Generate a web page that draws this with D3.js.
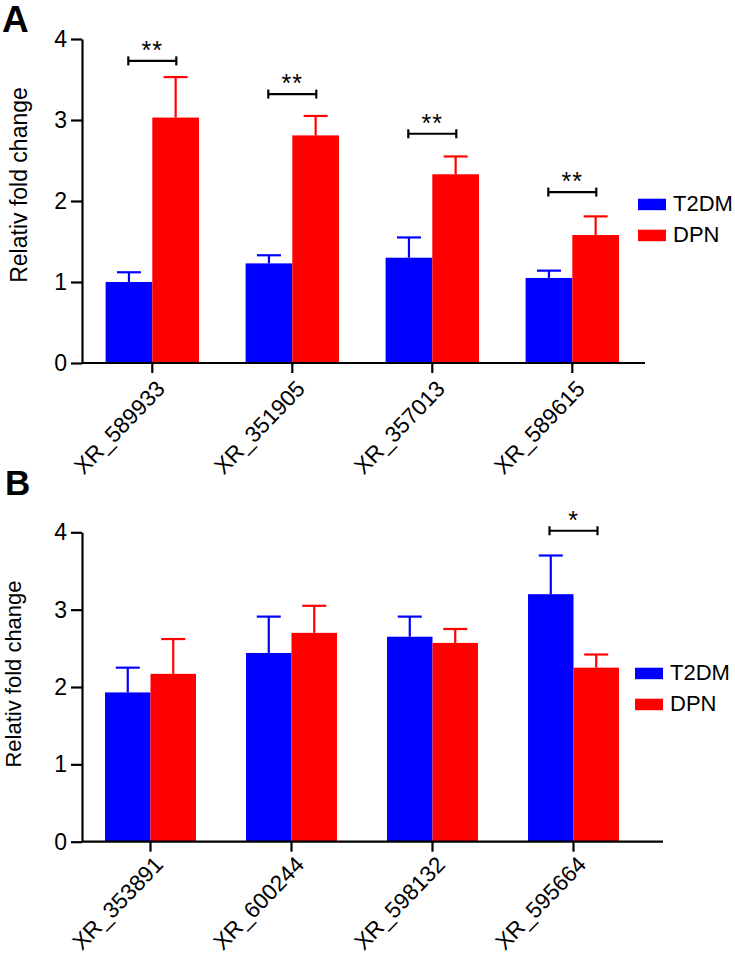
<!DOCTYPE html>
<html><head><meta charset="utf-8">
<script src="https://cdn.jsdelivr.net/npm/d3@7"></script>
<style>
html,body{margin:0;padding:0;background:#fff;}
svg text{font-family:"Liberation Sans",Arial,Helvetica,sans-serif;fill:#000;}
</style></head>
<body><svg id="c" width="735" height="959"></svg>
<script>
// ---- Data ----
const seriesNames = ["T2DM", "DPN"];
const seriesColors = ["#0000ff", "#ff0000"];
const yTicks = [0, 1, 2, 3, 4];

const categoriesA = ["XR_589933", "XR_351905", "XR_357013", "XR_589615"];
const t2dmA = [1.00, 1.23, 1.30, 1.05];
const t2dmErrA = [0.12, 0.10, 0.25, 0.09];
const dpnA = [3.03, 2.81, 2.33, 1.58];
const dpnErrA = [0.50, 0.24, 0.22, 0.23];
const sigLabelA = ["**", "**", "**", "**"];
const sigLevelA = [3.73, 3.32, 2.83, 2.11];

const categoriesB = ["XR_353891", "XR_600244", "XR_598132", "XR_595664"];
const t2dmB = [1.93, 2.44, 2.65, 3.20];
const t2dmErrB = [0.32, 0.47, 0.26, 0.50];
const dpnB = [2.17, 2.70, 2.57, 2.25];
const dpnErrB = [0.45, 0.35, 0.18, 0.17];
const sigLabelB = ["", "", "", "*"];
const sigLevelB = [null, null, null, 4.02];

const yTitle = "Relativ fold change";

// ---- Drawing ----
const svg = d3.select("#c");

function panel(cfg) {
  const g = svg.append("g");
  const y = d3.scaleLinear().domain([0, 4]).range([cfg.yBottom, cfg.yTop]);
  const x = d3.scaleBand().domain(cfg.cats).range(cfg.xRange)
    .paddingInner(cfg.pad).paddingOuter(cfg.pad / 2);
  const xs = d3.scaleBand().domain(seriesNames).range([0, x.bandwidth()]);
  const vals = [cfg.t2dm, cfg.dpn];
  const errs = [cfg.t2dmErr, cfg.dpnErr];

  // bars
  seriesNames.forEach((s, si) => {
    const data = cfg.cats.map((c, i) => ({c, v: vals[si][i], e: errs[si][i]}));
    g.append("g").selectAll("rect").data(data).join("rect")
      .attr("x", d => x(d.c) + xs(s))
      .attr("y", d => y(d.v))
      .attr("width", xs.bandwidth())
      .attr("height", d => y(0) - y(d.v))
      .attr("fill", seriesColors[si]);
    const eg = g.append("g").attr("stroke", seriesColors[si]).attr("stroke-width", 2.2);
    eg.selectAll("line.v").data(data).join("line").attr("class", "v")
      .attr("x1", d => x(d.c) + xs(s) + xs.bandwidth() / 2)
      .attr("x2", d => x(d.c) + xs(s) + xs.bandwidth() / 2)
      .attr("y1", d => y(d.v)).attr("y2", d => y(d.v + d.e));
    eg.selectAll("line.h").data(data).join("line").attr("class", "h")
      .attr("x1", d => x(d.c) + xs(s) + xs.bandwidth() / 2 - 12)
      .attr("x2", d => x(d.c) + xs(s) + xs.bandwidth() / 2 + 12)
      .attr("y1", d => y(d.v + d.e)).attr("y2", d => y(d.v + d.e));
  });

  // y axis
  const ya = g.append("g").attr("transform", `translate(${cfg.xAxisPos},0)`)
    .call(d3.axisLeft(y).tickValues(yTicks).tickSize(11).tickSizeOuter(0).tickPadding(4).tickFormat(d3.format("d")));
  ya.selectAll("path,line").attr("stroke", "#000").attr("stroke-width", 2.2);
  ya.selectAll("text").attr("font-size", 23).attr("font-family", "Liberation Sans, Arial, sans-serif").attr("fill", "#000");

  // x axis
  const xa = g.append("g").attr("transform", `translate(0,${cfg.yBottom})`)
    .call(d3.axisBottom(x).tickSize(10).tickSizeOuter(0).tickFormat(""));
  xa.select(".domain").remove();
  xa.selectAll("line").attr("stroke", "#000").attr("stroke-width", 2.2);
  g.append("line").attr("x1", cfg.xAxisPos).attr("x2", cfg.xAxisEnd)
    .attr("y1", cfg.yBottom).attr("y2", cfg.yBottom)
    .attr("stroke", "#000").attr("stroke-width", 2.2);

  // x labels
  g.append("g").selectAll("text").data(cfg.cats).join("text")
    .attr("transform", d => `translate(${x(d) + x.bandwidth() / 2 + 14},${cfg.yBottom + cfg.labDy}) rotate(-46)`)
    .attr("text-anchor", "end").attr("font-size", 22.5).text(d => d);

  // y title
  g.append("text")
    .attr("transform", `translate(${cfg.titleX},${cfg.titleY}) rotate(-90)`)
    .attr("text-anchor", "middle").attr("font-size", cfg.titleSize).text(yTitle);

  // significance
  const sig = cfg.cats.map((c, i) => ({c, lab: cfg.sigLabel[i], lev: cfg.sigLevel[i]})).filter(d => d.lab);
  const sg = g.append("g").attr("stroke", "#000").attr("stroke-width", 2.2);
  sig.forEach(d => {
    const cx = x(d.c) + x.bandwidth() / 2, yy = y(d.lev);
    sg.append("line").attr("x1", cx - 24).attr("x2", cx + 24).attr("y1", yy).attr("y2", yy);
    sg.append("line").attr("x1", cx - 24).attr("x2", cx - 24).attr("y1", yy - 4.5).attr("y2", yy + 4.5);
    sg.append("line").attr("x1", cx + 24).attr("x2", cx + 24).attr("y1", yy - 4.5).attr("y2", yy + 4.5);
    g.append("text").attr("x", cx).attr("y", yy - 2).attr("text-anchor", "middle")
      .attr("font-size", 25).attr("letter-spacing", 1).text(d.lab);
  });

  // legend
  const lg = g.append("g").attr("transform", `translate(${cfg.legX},${cfg.legY})`);
  seriesNames.forEach((s, i) => {
    lg.append("rect").attr("x", 0).attr("y", i * 31).attr("width", 28).attr("height", 11.5).attr("fill", seriesColors[i]);
    lg.append("text").attr("x", 35).attr("y", i * 31 + 12.5).attr("font-size", 22).text(s);
  });

  // panel letter
  svg.append("text").attr("x", cfg.letterX).attr("y", cfg.letterY)
    .attr("font-size", cfg.letterSize).attr("font-weight", "bold").text(cfg.letter);
}

panel({
  cats: categoriesA, t2dm: t2dmA, t2dmErr: t2dmErrA, dpn: dpnA, dpnErr: dpnErrA,
  sigLabel: sigLabelA, sigLevel: sigLevelA,
  yBottom: 363, yTop: 39, xRange: [82.3, 642.3], pad: 0.333, xAxisPos: 82, xAxisEnd: 645,
  legX: 638, legY: 198.7, titleX: 27, titleY: 185, titleSize: 23, labDy: 27,
  letter: "A", letterX: 2, letterY: 32, letterSize: 37
});
panel({
  cats: categoriesB, t2dm: t2dmB, t2dmErr: t2dmErrB, dpn: dpnB, dpnErr: dpnErrB,
  sigLabel: sigLabelB, sigLevel: sigLevelB,
  yBottom: 841.7, yTop: 532.3, xRange: [80, 644], pad: 0.355, xAxisPos: 82, xAxisEnd: 663,
  legX: 635, legY: 667.7, titleX: 21, titleY: 674, titleSize: 22, labDy: 24,
  letter: "B", letterX: 5, letterY: 495, letterSize: 35
});
</script></body></html>
